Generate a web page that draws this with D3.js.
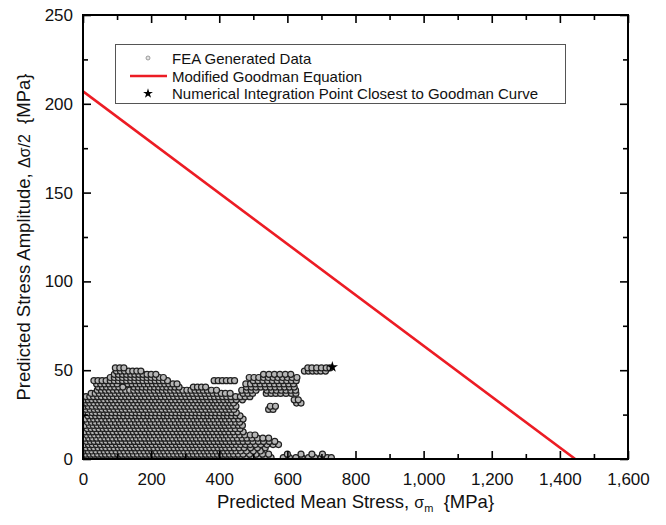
<!DOCTYPE html>
<html>
<head>
<meta charset="utf-8">
<script src="https://cdn.jsdelivr.net/npm/d3@7"></script>
<style>
  body { margin: 0; background: #fff; }
  svg { display: block; font-family: "Liberation Sans", Arial, Helvetica, sans-serif; }
</style>
</head>
<body>
<svg id="GoodmanChart"></svg>
<script>
// FEA cloud, one row per stress amplitude: [amplitude, [mean stresses]]
let feaRows = [
  [0.8, [2,14,25,37,49,61,72,84,96,107,119,131,143,154,166,178,190,201,213,225,237,248,260,272,284,295,307,319,331,342,354,366,378,389,401,413,425,436,448,460,478,497,515,534,552,588,606,625,643,662,680,699,717,729]],
  [2.7, [8,20,31,43,55,66,78,90,102,113,125,137,148,160,172,184,196,207,219,231,242,254,266,278,289,301,313,324,336,348,360,371,383,395,406,418,430,442,456,470,489,508,527,545,600,640,672,703]],
  [4.5, [3,15,26,38,50,62,73,85,97,109,120,132,144,155,167,179,191,202,214,226,237,249,261,273,284,296,308,320,331,343,355,366,378,390,402,413,425,437,449,463,480,500,521]],
  [6.3, [9,21,32,44,56,67,79,91,103,114,126,138,150,161,173,185,196,208,220,232,243,255,267,279,290,302,314,325,337,349,361,372,384,396,408,419,431,444,458,473,492,512,535]],
  [8.1, [4,16,27,39,51,63,74,86,98,109,121,133,145,156,168,180,191,203,215,227,238,250,262,274,285,297,309,321,332,344,356,367,379,391,403,414,426,438,450,463,477,491,506,522,540,558,574]],
  [9.9, [10,22,33,45,57,68,80,92,104,115,127,139,151,162,174,186,197,209,221,233,244,256,268,280,291,303,315,327,338,350,362,373,385,397,409,420,432,444,457,470,484,499,515,530,547,563]],
  [11.7, [5,17,28,40,52,64,75,87,99,110,122,134,146,157,169,181,193,204,216,228,239,251,263,275,286,298,310,322,333,345,357,368,380,392,404,415,427,440,453,467,481,496,512,528,545]],
  [13.5, [11,23,34,46,58,69,81,93,105,116,128,140,152,163,175,187,198,210,222,234,245,257,269,281,292,304,316,328,339,351,363,374,386,398,410,421,433,446,460,475,491,505]],
  [15.3, [6,18,29,41,53,65,76,88,100,111,123,135,147,158,170,182,194,205,217,229,240,252,264,276,287,299,311,323,334,346,358,369,381,393,405,416,428,441,455,470]],
  [17.1, [12,24,35,47,59,70,82,94,106,117,129,141,153,164,176,188,199,211,223,235,246,258,270,282,293,305,317,329,340,352,364,375,387,399,411,422,434,447,461]],
  [18.9, [7,19,30,42,54,66,77,89,101,112,124,136,148,159,171,183,195,206,218,230,241,253,265,277,288,300,312,324,335,347,359,370,382,394,406,417,429,442,456,468]],
  [20.7, [13,25,36,48,60,71,83,95,107,118,130,142,154,165,177,189,200,212,224,236,247,259,271,283,294,306,318,330,341,353,365,376,388,400,412,423,435,448,460]],
  [22.5, [8,20,31,43,55,67,78,90,102,113,125,137,149,160,172,184,196,207,219,231,242,254,266,278,289,301,313,325,336,348,360,371,383,395,407,418,430,443,457,470]],
  [24.3, [14,26,37,49,61,72,84,96,108,119,131,143,155,166,178,190,201,213,225,237,248,260,272,284,295,307,319,331,342,354,366,377,389,401,413,424,436,449,461]],
  [26.1, [3,15,27,38,50,62,73,85,97,109,120,132,144,156,167,179,191,202,214,226,238,249,261,273,285,296,308,320,332,343,355,367,378,390,402,414,425,437,450]],
  [27.9, [9,21,33,44,56,68,79,91,103,115,126,138,150,162,173,185,197,208,220,232,244,255,267,279,291,302,314,326,338,349,361,373,384,396,408,420,431,443,545,558]],
  [29.7, [3,15,27,39,50,62,74,85,97,109,121,132,144,156,168,179,191,203,214,226,238,250,261,273,285,297,308,320,332,344,355,367,379,390,402,414,426,437,449,550,565]],
  [31.5, [2,10,20,32,44,55,67,79,90,102,114,126,137,149,161,173,184,196,208,219,231,243,255,266,278,290,302,313,325,337,349,360,372,384,395,407,419,431,442,627,640]],
  [33.3, [5,15,26,38,49,61,73,84,96,108,120,131,143,155,167,178,190,202,213,225,237,249,260,272,284,296,307,319,331,343,354,366,378,389,401,413,425,436,450,468,620,632]],
  [35.1, [9,20,31,43,54,66,78,89,101,113,125,136,148,160,172,183,195,207,219,230,242,254,266,278,290,302,314,326,338,350,362,374,386,398,410,422,434,448,462,476,490]],
  [36.9, [24,36,48,60,71,83,95,107,118,130,142,154,166,178,190,202,214,226,238,250,262,274,286,298,310,322,334,346,358,370,382,394,406,418,432,470,484,498,538,552,566,580,596,612,625]],
  [38.7, [42,54,66,77,89,101,113,125,137,149,161,173,185,197,209,221,233,245,257,269,281,293,305,317,329,341,353,365,377,392,466,480,494,508,540,554,568,582,596,610,624]],
  [40.5, [45,57,69,81,93,105,117,150,162,174,186,198,210,222,234,246,258,270,282,324,336,348,360,480,494,508,522,536,550,564,578,592,606,620]],
  [42.3, [40,52,64,76,88,100,132,144,156,168,180,192,204,216,228,240,252,264,276,478,492,506,520,534,548,562,576,590,604,618]],
  [44.1, [32,44,56,68,80,92,104,116,128,140,152,164,176,188,200,212,224,236,248,385,397,409,421,433,445,500,514,528,542,556,570,584,598,612,626]],
  [45.9, [80,92,104,116,128,140,152,164,176,188,200,212,224,236,488,502,516,530,544,558,572,586,600,614,628]],
  [47.7, [92,104,116,128,140,152,164,176,188,200,214,530,546,562,578,594,610]],
  [49.5, [98,110,122,134,146,158,170,650,662,674,686,698,712]],
  [51.3, [95,108,120,660,672,686,700,714,725]]
];

let closestPoint = { sm: 732, sa: 51.8 };
let goodmanLine = [{ sm: 0, sa: 207 }, { sm: 1445, sa: 0 }];

let xTicks = [0, 200, 400, 600, 800, 1000, 1200, 1400, 1600];
let xMinorTicks = [100, 300, 500, 700, 900, 1100, 1300, 1500];
let yTicks = [0, 50, 100, 150, 200, 250];
let yMinorTicks = [25, 75, 125, 175, 225];
let legendLabels = ["FEA Generated Data", "Modified Goodman Equation", "Numerical Integration Point Closest to Goodman Curve"];

let store = {};

function getConfig() {
    let width = 666;
    let height = 525;
    let margin = { top: 15, bottom: 66, left: 83, right: 38 };
    let bodyWidth = width - margin.left - margin.right;
    let bodyHeight = height - margin.top - margin.bottom;
    let container = d3.select("#GoodmanChart")
        .attr("width", width)
        .attr("height", height);
    return { width, height, margin, bodyWidth, bodyHeight, container };
}

function getScales(config) {
    let { bodyWidth, bodyHeight } = config;
    let xScale = d3.scaleLinear().domain([0, 1600]).range([0, bodyWidth]);
    let yScale = d3.scaleLinear().domain([0, 250]).range([bodyHeight, 0]);
    return { xScale, yScale };
}

function drawPoints(scales, config) {
    let { margin, bodyWidth, bodyHeight, container } = config;
    let { xScale, yScale } = scales;

    container.append("clipPath").attr("id", "plotClip")
      .append("rect").attr("width", bodyWidth).attr("height", bodyHeight);

    let body = container.append("g")
        .attr("transform", `translate(${margin.left},${margin.top})`)
        .attr("clip-path", "url(#plotClip)");

    let points = [];
    feaRows.forEach(([sa, sms]) => sms.forEach(sm => points.push({ sm, sa })));

    body.selectAll(".fea").data(points)
      .enter()
      .append("circle")
      .attr("class", "fea")
      .attr("cx", d => xScale(d.sm))
      .attr("cy", d => yScale(d.sa))
      .attr("r", 3)
      .attr("fill", "#b6b6b6")
      .attr("stroke", "#202020")
      .attr("stroke-width", 1.2);

    body.append("path")
      .datum(goodmanLine)
      .attr("d", d3.line().x(d => xScale(d.sm)).y(d => yScale(d.sa)))
      .attr("fill", "none")
      .attr("stroke", "#ec1c24")
      .attr("stroke-width", 2.6);

    body.append("path")
      .attr("d", d3.symbol().type(d3.symbolStar).size(40)())
      .attr("transform", `translate(${xScale(closestPoint.sm)},${yScale(closestPoint.sa)})`)
      .attr("fill", "#000");

    return body;
}

function drawAxes(scales, config) {
    let { xScale, yScale } = scales;
    let { container, margin, bodyWidth, bodyHeight } = config;
    let g = container.append("g").attr("transform", `translate(${margin.left},${margin.top})`);

    let fmt = d3.format(",");
    let bottom = g.append("g").attr("transform", `translate(0,${bodyHeight})`)
      .call(d3.axisBottom(xScale).tickValues(xTicks).tickFormat(fmt).tickSize(-8).tickSizeOuter(0).tickPadding(14));
    g.append("g").attr("transform", `translate(0,${bodyHeight})`)
      .call(d3.axisBottom(xScale).tickValues(xMinorTicks).tickFormat("").tickSize(-5).tickSizeOuter(0));
    g.append("g")
      .call(d3.axisTop(xScale).tickValues(xTicks).tickFormat("").tickSize(-8).tickSizeOuter(0));
    g.append("g")
      .call(d3.axisTop(xScale).tickValues(xMinorTicks).tickFormat("").tickSize(-5).tickSizeOuter(0));

    let left = g.append("g")
      .call(d3.axisLeft(yScale).tickValues(yTicks).tickSize(-8).tickSizeOuter(0).tickPadding(10));
    g.append("g")
      .call(d3.axisLeft(yScale).tickValues(yMinorTicks).tickFormat("").tickSize(-5).tickSizeOuter(0));
    g.append("g").attr("transform", `translate(${bodyWidth},0)`)
      .call(d3.axisRight(yScale).tickValues(yTicks).tickFormat("").tickSize(-8).tickSizeOuter(0));
    g.append("g").attr("transform", `translate(${bodyWidth},0)`)
      .call(d3.axisRight(yScale).tickValues(yMinorTicks).tickFormat("").tickSize(-5).tickSizeOuter(0));

    g.selectAll(".domain").remove();
    g.selectAll(".tick line").attr("stroke", "#000").attr("stroke-width", 1.6);
    g.selectAll(".tick text").attr("font-size", 17).attr("fill", "#111").attr("font-family", null);

    g.append("rect")
      .attr("width", bodyWidth).attr("height", bodyHeight)
      .attr("fill", "none").attr("stroke", "#000").attr("stroke-width", 2);

    // axis titles
    let xt = container.append("text")
      .attr("x", margin.left + bodyWidth / 2).attr("y", 508)
      .attr("text-anchor", "middle").attr("font-size", 18.5).attr("fill", "#111");
    xt.append("tspan").text("Predicted Mean Stress, ");
    xt.append("tspan").attr("font-size", 16).text("σ");
    xt.append("tspan").attr("font-size", 11).attr("dy", 4).text("m");
    xt.append("tspan").attr("dy", -4).text("\u00a0\u00a0{MPa}");

    let yt = container.append("text")
      .attr("transform", `translate(30,${margin.top + bodyHeight / 2}) rotate(-90)`)
      .attr("text-anchor", "middle").attr("font-size", 18.5).attr("fill", "#111");
    yt.append("tspan").text("Predicted Stress Amplitude, ");
    yt.append("tspan").attr("font-size", 16).text("Δσ/2");
    yt.append("tspan").text("\u00a0\u00a0{MPa}");

    return { bottom, left };
}

function drawLegend(config) {
    let { container } = config;
    let lg = container.append("g");
    lg.append("rect")
      .attr("x", 115.5).attr("y", 44.5).attr("width", 450).attr("height", 59)
      .attr("fill", "#fff").attr("stroke", "#555").attr("stroke-width", 1);

    let rowY = [58, 76, 93.5];
    lg.selectAll(".lbl").data(legendLabels)
      .enter().append("text")
      .attr("x", 172).attr("y", (d, i) => rowY[i] + 5.5)
      .attr("font-size", 15).attr("fill", "#111")
      .text(d => d);

    lg.append("circle").attr("cx", 148).attr("cy", rowY[0]).attr("r", 2)
      .attr("fill", "#e4e4e4").attr("stroke", "#888").attr("stroke-width", 0.8);
    lg.append("line").attr("x1", 130).attr("x2", 167).attr("y1", rowY[1]).attr("y2", rowY[1])
      .attr("stroke", "#ec1c24").attr("stroke-width", 2.6);
    lg.append("path")
      .attr("d", d3.symbol().type(d3.symbolStar).size(30)())
      .attr("transform", `translate(148,${rowY[2]})`).attr("fill", "#000");
}

function showData() {
    store.config = getConfig();
    store.scales = getScales(store.config);
    store.points = drawPoints(store.scales, store.config);
    drawLegend(store.config);
    store.axes = drawAxes(store.scales, store.config);
}

showData();
</script>
</body>
</html>
